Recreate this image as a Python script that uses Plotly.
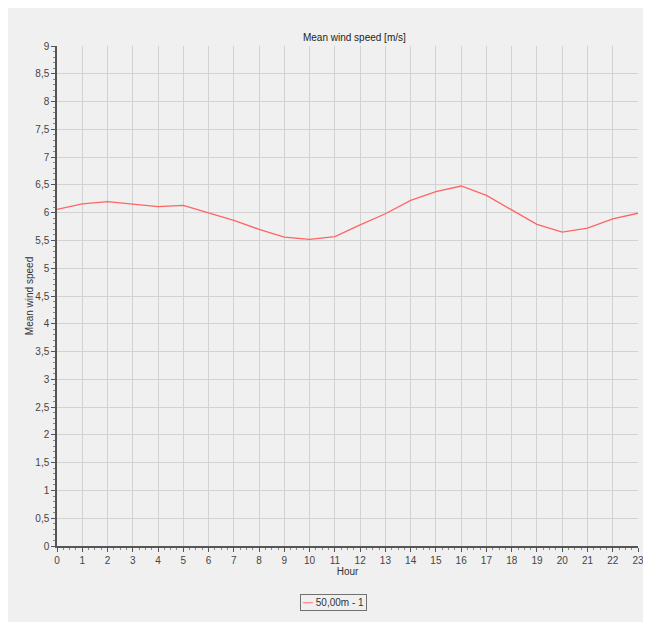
import plotly.graph_objects as go

hours = list(range(24))
wind_speed = [6.06, 6.16, 6.20, 6.15, 6.11, 6.13, 6.00, 5.86, 5.70, 5.56, 5.52, 5.57,
              5.78, 5.98, 6.22, 6.38, 6.48, 6.31, 6.05, 5.79, 5.65, 5.72, 5.89, 5.99]
series_name = "50,00m - 1"
chart_title = "Mean wind speed [m/s]"
x_title = "Hour"
y_title = "Mean wind speed"
line_color = "#ff6464"

# the page body keeps its default 8px margin; size the figure so the page is 651x630
OX, OY = 8, 8
W, H = 651 - 2 * OX, 630 - 2 * OY
L, R, T, B = 57 - OX, 5, 46 - OY, H - (546 - OY)
pw = W - L - R
ph = H - T - B

FONT = "Liberation Sans"

fig = go.Figure()
fig.add_trace(go.Scatter(x=hours, y=wind_speed, mode="lines", name=series_name,
                         showlegend=False,
                         line=dict(color=line_color, width=1.3)))

fig.update_layout(
    width=W, height=H,
    margin=dict(l=L, r=R, t=T, b=B, autoexpand=False),
    paper_bgcolor="#f0f0f0",
    plot_bgcolor="#f0f0f0",
    separators=",.",
    font=dict(family=FONT, size=10, color="#444444"),
    title=dict(text=chart_title, x=(333 - OX) / W, xref="paper", xanchor="center",
               y=1 - (37 - OY) / H, yanchor="middle",
               font=dict(family=FONT, size=10, color="#222222")),
    annotations=[dict(
        text="<span style='color:#ff8a8a'><b>—</b></span> " + series_name,
        xref="paper", yref="paper",
        x=(333 - OX - L) / pw, y=(H - B - (602 - OY)) / ph,
        xanchor="center", yanchor="middle", showarrow=False,
        font=dict(family=FONT, size=10, color="#333333"),
        bgcolor="#f0f0f0", bordercolor="#707070", borderwidth=1, borderpad=2,
    )],
)

fig.update_xaxes(
    range=[0, 23], dtick=1, tick0=0,
    showgrid=True, gridcolor="#d2d2d2", gridwidth=1,
    showline=True, linecolor="#555555", linewidth=1.5,
    ticks="outside", ticklen=4, tickcolor="#555555",
    ticklabeloverflow="allow", automargin=False,
    tickfont=dict(family=FONT, size=10, color="#444444"),
    minor=dict(dtick=0.25, ticks="outside", ticklen=2, tickcolor="#888888", showgrid=False),
    title=dict(text=x_title, font=dict(family=FONT, size=10, color="#333333"), standoff=0),
    zeroline=False, fixedrange=True,
)
fig.update_yaxes(
    range=[0, 9], dtick=0.5, tick0=0,
    showgrid=True, gridcolor="#d2d2d2", gridwidth=1,
    showline=True, linecolor="#555555", linewidth=1.5,
    ticks="outside", ticklen=4, tickcolor="#555555",
    automargin=False,
    tickfont=dict(family=FONT, size=10, color="#444444"),
    minor=dict(dtick=0.1, ticks="outside", ticklen=2, tickcolor="#888888", showgrid=False),
    title=dict(text=y_title, font=dict(family=FONT, size=10, color="#333333"), standoff=0),
    zeroline=False, fixedrange=True,
)

fig.write_html("out.html")
